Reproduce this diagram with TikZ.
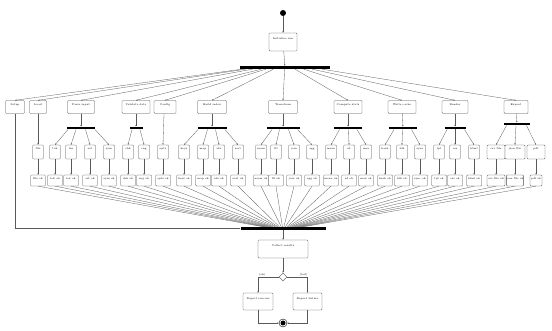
\documentclass[tikz,border=0pt]{standalone}
\usetikzlibrary{shapes.geometric,calc,arrows.meta}
\begin{document}
\begin{tikzpicture}[x=1pt,y=-1pt]
\tikzset{
 act/.style={draw=black!70, line width=0.35pt, rounded corners=1pt, inner sep=0pt, fill=white, font=\fontsize{2.6}{3}\selectfont},
 topbox/.style={act, minimum height=13pt, text depth=4pt},
 smallbox/.style={act, minimum height=14pt, text depth=6pt},
 rowbox/.style={act, minimum height=11pt, text depth=3.5pt},
 bar/.style={fill=black, inner sep=0pt, minimum height=2.6pt},
 flow/.style={draw=black!65, line width=0.3pt},
 arr/.style={flow, -{Stealth[length=1.6pt,width=1.3pt]}},
 guard/.style={font=\fontsize{2.6}{3}\selectfont, inner sep=0.6pt},
}
\useasboundingbox (0,0) rectangle (552,331);
\fill[white] (0,0) rectangle (552,331);

% spine top
\node[circle, fill=black, minimum size=6pt, inner sep=0pt] (ini) at (283,13) {};
\node[act, minimum width=28pt, minimum height=18pt, text depth=7pt] (a0) at (283,42) {Initialize run};
\node[bar, minimum width=90pt, minimum height=3pt] (fork) at (285,67.5) {};
\draw[arr] (ini) -- (a0);
\draw[arr] (a0) -- (fork);

% top row
\foreach \n/\x/\w/\t in {t1/15/19/Setup, t2/38/17/Load, t3/81/27/Parse input, t4/136/28/Validate data, t5/165/22/Config, t6/212/29/Build index, t7/283/29/Transform, t8/348/28/Compute stats, t9/402/28/Write cache, t10/455/26/Render, t11/516/24/Export}{
  \node[topbox, minimum width=\w pt] (\n) at (\x,107) {\t};
  \draw[arr] ($(fork.south)!0.16!(fork.south -| \n.north)$) -- (\n.north);
}

% sub forks
\foreach \n/\p/\x/\y/\w in {b3/t3/81/128/28, b4/t4/136/128/13, b6/t6/212/128/29, b7/t7/283/128/33, b8/t8/348/128/28, b9/t9/403/128/28, b10/t10/455/128/21, b11/t11/517/124/26}{
  \node[bar, minimum width=\w pt] (\n) at (\x,\y) {};
  \draw[arr] (\p) -- (\n);
}

% join
\node[bar, minimum width=85pt, minimum height=3pt] (join) at (283,228.5) {};
\draw[arr] (t1.south) |- (join.west);

% small boxes and row boxes
\foreach \n/\x/\p/\w/\rw/\t in {
  s1/38/t2/11/15/file, s2/55/b3/11/15/tok, s3/71/b3/11/15/lex, s4/90/b3/11/15/ast, s5/109/b3/11/15/sym,
  s6/128/b4/11/15/chk, s7/144/b4/11/15/rng, s8/163/t5/11/15/opts,
  s9/184/b6/11/15/keys, s10/203/b6/11/15/map, s11/219/b6/11/15/idx, s12/238/b6/11/15/sort,
  s13/261/b7/11/15/norm, s14/276/b7/11/15/fil, s15/294/b7/11/15/join, s16/312/b7/11/15/agg,
  s17/331/b8/11/15/mean, s18/349/b8/11/15/sd, s19/366/b8/11/15/max,
  s20/385/b9/11/15/hash, s21/402/b9/11/15/blk, s22/420/b9/11/15/sync,
  s23/439/b10/11/15/tpl, s24/455/b10/11/15/css, s25/474/b10/11/15/html,
  s26/496/b11/18/18/csv file, s27/515/b11/20/16/json file, s28/536/b11/18/12/pdf}{
  \node[smallbox, minimum width=\w pt] (\n) at (\x,152) {\t};
  \node[rowbox, minimum width=\rw pt] (r\n) at (\x,180.5) {\t\ ok};
  \draw[arr] ($(\p.south)!0.5!(\p.south -| \n.north)$) -- (\n.north);
  \draw[arr] (\n) -- (r\n);
  \draw[flow] (r\n.south) -- ($(join.north)!0.08!(join.north -| r\n.south)$);
}

% bottom
\node[act, minimum width=50pt, minimum height=18pt, text depth=7pt] (a1) at (283,249) {Collect results};
\draw[arr] (join) -- (a1);
\node[diamond, draw=black!70, line width=0.35pt, fill=white, minimum width=8pt, minimum height=8pt, inner sep=0pt] (dec) at (283,277) {};
\draw[arr] (a1) -- (dec);
\node[act, minimum width=30pt, minimum height=17pt, text depth=6pt] (lb) at (258,301.5) {Report success};
\node[act, minimum width=29pt, minimum height=17pt, text depth=6pt] (rb) at (307.5,301.5) {Report failure};
\draw[arr] (dec.west) -| node[guard, pos=0.4, above] {[ok]} (lb.north);
\draw[arr] (dec.east) -| node[guard, pos=0.4, above] {[fail]} (rb.north);
\node[circle, draw=black, line width=0.4pt, fill=white, minimum size=8pt, inner sep=0pt] (fin) at (283,323) {};
\fill[black] (fin.center) circle (2.5pt);
\draw[arr] (lb.south) |- (fin.west);
\draw[arr] (rb.south) |- (fin.east);
\end{tikzpicture}
\end{document}
